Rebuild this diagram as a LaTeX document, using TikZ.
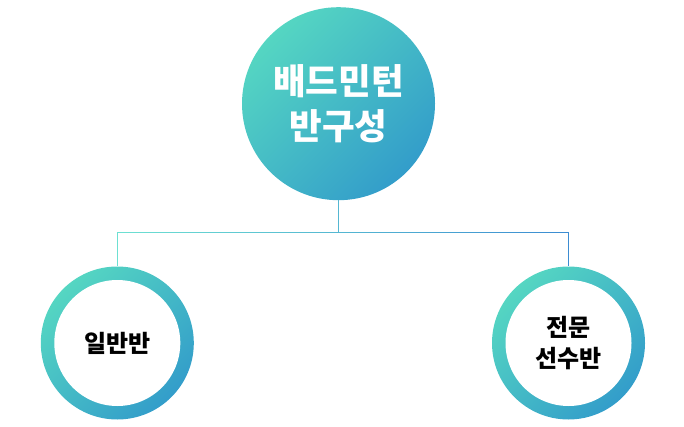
\documentclass[tikz,border=0pt]{standalone}
\usepackage{fontspec}
\setmainfont{Noto Sans CJK KR}
\usetikzlibrary{fadings}
\definecolor{mint}{HTML}{55D6C2}
\definecolor{ocean}{HTML}{339DCA}
\definecolor{linemint}{HTML}{6EE1D2}
\definecolor{lineocean}{HTML}{3C8CD2}
\tikzfading[name=fadebus, left color=transparent!0, right color=transparent!100]
\begin{document}
\begin{tikzpicture}[x=1pt, y=-1pt,
    grad/.style={circle, top color=mint, bottom color=ocean, shading angle=45, inner sep=0pt},
    ring/.style={grad, minimum size=153pt, align=center,
      path picture={\fill[white] (path picture bounding box.center) circle (63pt);},
      font=\bfseries\fontsize{24}{31}\selectfont},
    conn/.style={line width=1.2pt}]
  \useasboundingbox (0,0) rectangle (684,427);
  %nodes
  \node[grad, minimum size=193pt, text=white, align=center, font=\bfseries\fontsize{35.5}{45}\selectfont] at (338.5,103.7) (team) {배드민턴\\반구성};
  \node[ring] at (117.3,343) (general) {일반반};
  \node[ring] at (568.5,343) (elite) {전문\\선수반};
  \coordinate (bus) at ([yshift=-32pt]team.south);
  %connectors
  \draw[conn, lineocean] (team.south) -- (bus) -| (general.north) (bus) -| (elite.north);
  \draw[conn, linemint, path fading=fadebus] (team.south) -- (bus) -| (general.north) (bus) -| (elite.north);
\end{tikzpicture}
\end{document}
